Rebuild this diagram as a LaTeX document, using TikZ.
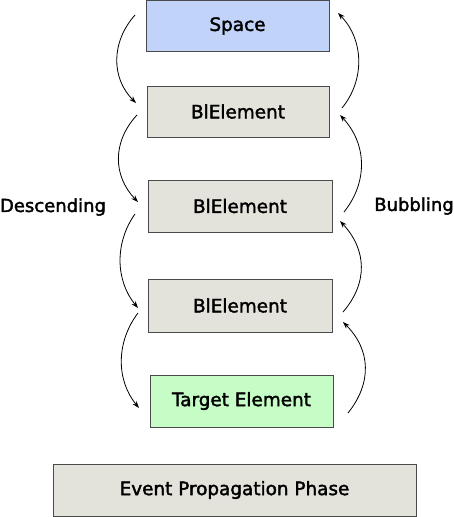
\documentclass[tikz,border=0pt]{standalone}
\usepackage{fontspec}
\setmainfont{DejaVu Sans}
\newfontfamily\diagfont[FakeBold=2]{DejaVu Sans}
\usetikzlibrary{arrows.meta}
\definecolor{spaceblue}{HTML}{C2D3F9}
\definecolor{boxgray}{HTML}{E3E2DB}
\definecolor{targetgreen}{HTML}{C6FCC6}
\definecolor{edgegray}{HTML}{4A4A4A}
\tikzset{
  box/.style={draw=edgegray, line width=1pt, fill=boxgray, inner sep=0pt,
    font=\diagfont\fontsize{18.4}{20}\selectfont},
  lbl/.style={inner sep=0pt, font=\diagfont\fontsize{18}{20}\selectfont},
  flow/.style={line width=0.8pt, -{Stealth[length=7pt,width=5pt]}}
}
\begin{document}
\begin{tikzpicture}[x=1pt,y=-1pt]
\useasboundingbox (0,0) rectangle (454,517);
\node[box, fill=spaceblue, minimum width=183pt, minimum height=51pt] (sp) at (237.5,26) {Space};
\node[box, minimum width=182pt, minimum height=51pt] (b1) at (238,111.5) {BlElement};
\node[box, minimum width=184pt, minimum height=52pt] (b2) at (240,206) {BlElement};
\node[box, minimum width=184pt, minimum height=53pt] (b3) at (240,305.5) {BlElement};
\node[box, fill=targetgreen, minimum width=183pt, minimum height=52pt] (tg) at (241.5,401) {Target Element};
\node[box, minimum width=363pt, minimum height=52pt] (ev) at (234.5,490) {Event Propagation Phase};
\node[lbl] (desc) at (53,207) {Descending};
\node[lbl] (bub) at (414,206) {Bubbling};
% left arrow endpoints
\coordinate (l1s) at (135,15);  \coordinate (l1e) at (136,103);
\coordinate (l2s) at (137,115); \coordinate (l2e) at (138,202);
\coordinate (l3s) at (135,214); \coordinate (l3e) at (138,308);
\coordinate (l4s) at (138,313); \coordinate (l4e) at (139,408);
% right arrow endpoints
\coordinate (r1s) at (342,108); \coordinate (r1e) at (338,13);
\coordinate (r2s) at (344,212); \coordinate (r2e) at (340,115);
\coordinate (r3s) at (343,312); \coordinate (r3e) at (340,221);
\coordinate (r4s) at (348,413); \coordinate (r4e) at (343,322);
\draw[flow] (l1s) .. controls (111,42) and (111,78) .. (l1e);
\draw[flow] (l2s) .. controls (112,142) and (113,176) .. (l2e);
\draw[flow] (l3s) .. controls (115,242) and (115,280) .. (l3e);
\draw[flow] (l4s) .. controls (116,342) and (116,380) .. (l4e);
\draw[flow] (r1s) .. controls (365,80) and (364,40) .. (r1e);
\draw[flow] (r2s) .. controls (368,182) and (367,144) .. (r2e);
\draw[flow] (r3s) .. controls (368,283) and (367,250) .. (r3e);
\draw[flow] (r4s) .. controls (372,383) and (371,350) .. (r4e);
\end{tikzpicture}
\end{document}
